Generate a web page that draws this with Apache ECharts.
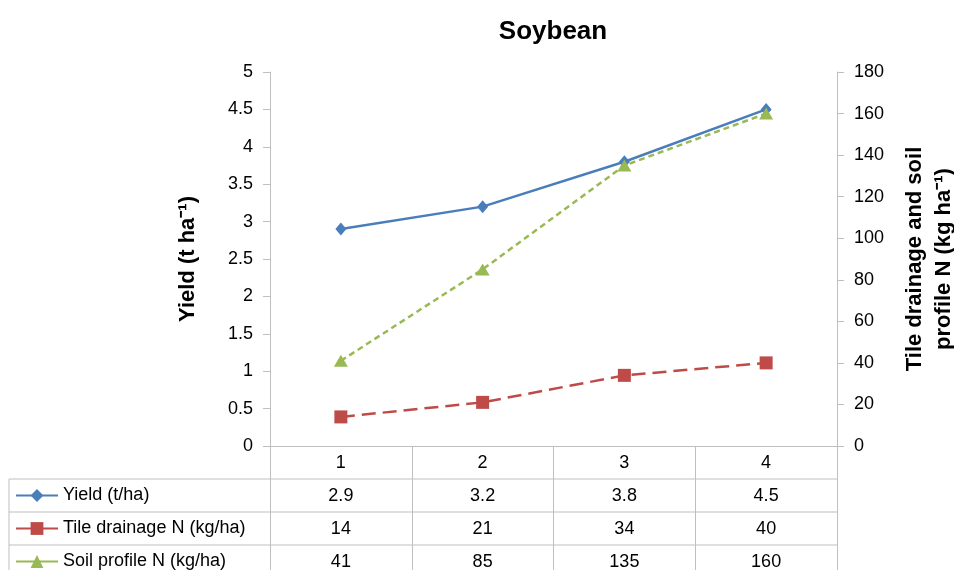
<!DOCTYPE html>
<html>
<head>
  <meta charset="utf-8">
  <title>Soybean</title>
  <script src="https://cdn.jsdelivr.net/npm/echarts@6.0.0/dist/echarts.min.js"></script>
</head>
<body style="margin:0">
  <div id="main" style="width:954px;height:570px;"></div>
<script>
  let categories = ['1', '2', '3', '4'];
  let yieldValues = [2.9, 3.2, 3.8, 4.5];
  let tileValues = [14, 21, 34, 40];
  let soilValues = [41, 85, 135, 160];
  let seriesNames = ['Yield (t/ha)', 'Tile drainage N (kg/ha)', 'Soil profile N (kg/ha)'];

  let font = '"Liberation Sans", Arial, sans-serif';
  let gray = '#bfbfbf';
  let rowH = 33;
  let gridBottom = 124;
  let axisY = 570 - gridBottom;

  // each table row is an extra category axis under the plot
  function tableAxis(values, row) {
    return {
      type: 'category',
      data: values.map(String),
      position: 'bottom',
      offset: rowH * row,
      axisLine: { show: false },
      axisTick: { show: false },
      axisLabel: { color: '#000', fontSize: 18, fontFamily: font, margin: 8 }
    };
  }

  function valueAxis(max, interval, name, gap) {
    return {
      type: 'value',
      min: 0,
      max: max,
      interval: interval,
      name: name,
      nameLocation: 'middle',
      nameGap: gap,
      nameTextStyle: { color: '#000', fontSize: 22, fontWeight: 'bold', fontFamily: font, lineHeight: 29 },
      axisLine: { show: true, lineStyle: { color: gray } },
      axisTick: { show: true, length: 7, lineStyle: { color: gray } },
      axisLabel: { color: '#000', fontSize: 18, fontFamily: font, margin: 17 },
      splitLine: { show: false }
    };
  }

  // one legend per table row, so each key sits in its own cell
  function rowLegend(i) {
    return {
      orient: 'vertical',
      left: 15,
      top: axisY + rowH * (i + 1) + rowH / 2 - 9,
      padding: 0,
      itemWidth: 42,
      itemHeight: 16,
      data: [seriesNames[i]],
      lineStyle: { type: 'solid' },
      textStyle: { color: '#000', fontSize: 18, fontFamily: font, lineHeight: 18 }
    };
  }

  let myChart = echarts.init(document.getElementById('main'));

  let option = {
    animation: false,
    title: {
      text: 'Soybean',
      left: 548,
      top: 14,
      textAlign: 'center',
      textStyle: { color: '#000', fontSize: 26, fontWeight: 'bold', fontFamily: font }
    },
    legend: [0, 1, 2].map(rowLegend),
    grid: { left: 270, right: 117, top: 72, bottom: gridBottom, containLabel: false, outerBoundsMode: 'none' },
    xAxis: [
      {
        type: 'category',
        data: categories,
        boundaryGap: true,
        axisLine: { lineStyle: { color: gray } },
        axisTick: { show: true, interval: 0, length: 130, lineStyle: { color: gray } },
        axisLabel: { color: '#000', fontSize: 18, fontFamily: font, margin: 8 }
      },
      tableAxis(yieldValues, 1),
      tableAxis(tileValues, 2),
      tableAxis(soilValues, 3)
    ],
    yAxis: [
      valueAxis(5, 0.5, 'Yield (t ha\u207B\u00B9)', 68),
      valueAxis(180, 20, 'Tile drainage and soil\nprofile N (kg ha\u207B\u00B9)', 63)
    ],
    series: [
      {
        name: seriesNames[0],
        type: 'line',
        yAxisIndex: 0,
        data: yieldValues,
        symbol: 'diamond',
        symbolSize: [11, 13],
        color: '#4a7ebb',
        lineStyle: { width: 2.5 }
      },
      {
        name: seriesNames[1],
        type: 'line',
        yAxisIndex: 1,
        data: tileValues,
        symbol: 'rect',
        symbolSize: 13,
        color: '#be4b48',
        lineStyle: { width: 2.5, type: [14, 7] }
      },
      {
        name: seriesNames[2],
        type: 'line',
        yAxisIndex: 1,
        data: soilValues,
        symbol: 'triangle',
        symbolSize: [14, 12],
        color: '#98b954',
        lineStyle: { width: 2.5, type: [6, 4] }
      }
    ],
    graphic: [1, 2, 3].map(i => ({
      type: 'line',
      shape: { x1: 9, y1: axisY + rowH * i, x2: 837, y2: axisY + rowH * i },
      style: { stroke: gray, lineWidth: 1 }
    })).concat([{
      type: 'line',
      shape: { x1: 9, y1: axisY + rowH, x2: 9, y2: 570 },
      style: { stroke: gray, lineWidth: 1 }
    }])
  };

  myChart.setOption(option);
</script>
</body>
</html>
